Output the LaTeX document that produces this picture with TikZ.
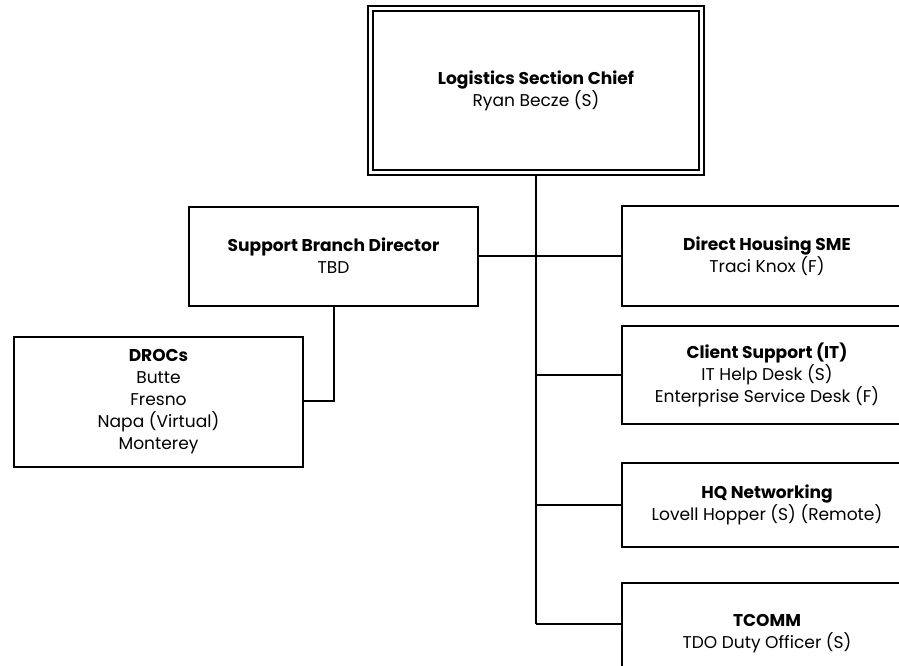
\documentclass[tikz,border=0pt]{standalone}
\usepackage{fontspec}
\setmainfont{Poppins}
\begin{document}
\begin{tikzpicture}[x=0.75pt,y=-0.75pt,
  box/.style={draw=black, line width=1.5pt, fill=white, rectangle, inner sep=0pt,
    align=center, font=\fontsize{12.8}{16.5}\selectfont},
  link/.style={draw=black, line width=1.5pt},
  trunk/.style={draw=black, line width=2pt}]
\useasboundingbox (0,0) rectangle (899,665);
\begin{scope}
\clip (0,0) rectangle (899,665);
\node[box, double, double distance=1.9pt, minimum width=331.5*0.75pt, minimum height=164*0.75pt] (top) at (536,90.5)
  {\textbf{Logistics Section Chief}\\Ryan Becze (S)};
\node[box, minimum width=289*0.75pt, minimum height=99*0.75pt] (sbd) at (333.5,256)
  {\textbf{Support Branch Director}\\TBD};
\node[box, minimum width=289*0.75pt, minimum height=130*0.75pt] (droc) at (158.5,402)
  {\textbf{DROCs}\\Butte\\Fresno\\Napa (Virtual)\\Monterey};
\node[box, minimum width=290*0.75pt, minimum height=100*0.75pt] (dhs) at (767,256)
  {\textbf{Direct Housing SME}\\Traci Knox (F)};
\node[box, minimum width=290*0.75pt, minimum height=98*0.75pt] (cs) at (767,375)
  {\textbf{Client Support (IT)}\\IT Help Desk (S)\\Enterprise Service Desk (F)};
\node[box, minimum width=290*0.75pt, minimum height=84*0.75pt] (hq) at (767,505)
  {\textbf{HQ Networking}\\Lovell Hopper (S) (Remote)};
\node[box, minimum width=290*0.75pt, minimum height=102*0.75pt] (tc) at (767,634)
  {\textbf{TCOMM}\\TDO Duty Officer (S)};
\coordinate (tend) at (536,624);
\coordinate (dturn) at (333.5,401);
\draw[trunk] (top.south) -- (tend);
\draw[link] (sbd.east) -- (dhs.west);
\draw[link] (top.south |- cs.west) -- (cs.west);
\draw[link] (top.south |- hq.west) -- (hq.west);
\draw[link] (tend) -- (tc.west |- tend);
\draw[link] (sbd.south) -- (dturn) -- (droc.east |- dturn);
\end{scope}
\end{tikzpicture}
\end{document}
